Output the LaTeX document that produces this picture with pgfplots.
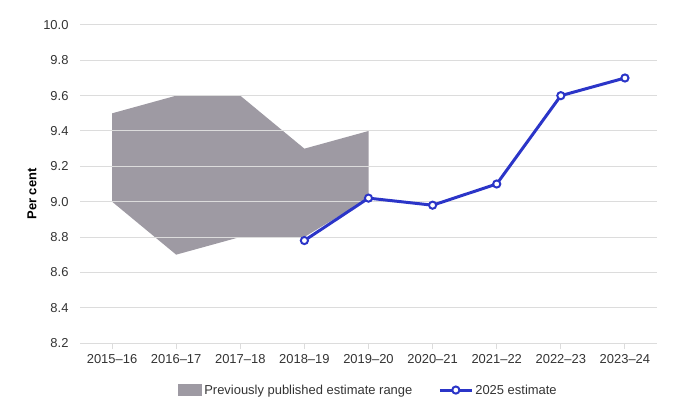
\documentclass[border=0pt]{standalone}
\usepackage{pgfplots}
\pgfplotsset{compat=1.18}
\usepackage{fontspec}
\setmainfont{Liberation Sans}
\definecolor{areagrey}{HTML}{9E9AA3}
\definecolor{lineblue}{HTML}{2B35C8}
\definecolor{gridgrey}{HTML}{DCDCDC}
\definecolor{textgrey}{HTML}{333333}
\begin{document}
\begin{tikzpicture}
\begin{axis}[
  set layers,
  at={(0,0)}, anchor=south west,
  scale only axis,
  width=577bp, height=318bp,
  xmin=-0.5, xmax=8.5,
  ymin=8.2, ymax=10.0,
  xtick={0,...,8},
  xticklabels={2015--16,2016--17,2017--18,2018--19,2019--20,2020--21,2021--22,2022--23,2023--24},
  ytick={8.2,8.4,...,10.01},
  yticklabel style={/pgf/number format/fixed, /pgf/number format/fixed zerofill, /pgf/number format/precision=1, xshift=-2bp},
  /pgf/number format/assume math mode=true,
  ymajorgrids,
  grid style={gridgrey, line width=1pt},
  axis x line*=bottom,
  axis y line*=left,
  x axis line style={draw=gridgrey, line width=1pt},
  y axis line style={draw=none},
  xtick style={draw=gridgrey, line width=1pt},
  ytick style={draw=none},
  tick align=outside,
  major tick length=6bp,
  tick label style={font=\fontsize{13}{15}\selectfont, text=textgrey},
  xticklabel style={yshift=-2bp},
  ylabel={\textbf{Per cent}},
  every axis y label/.style={at={(ticklabel cs:0.5)}, rotate=90, anchor=south, xshift=-10bp, font=\fontsize{13}{15}\selectfont, text=black},
  legend style={at={(0.5,-0.148)}, anchor=center, draw=none, fill=none,
    legend columns=2, font=\fontsize{13}{15}\selectfont, text=textgrey,
    /tikz/every even column/.append style={column sep=24bp}},
  legend cell align=left,
  legend image code/.code={%
    \draw[#1, mark repeat=2, mark phase=2] plot coordinates {(0bp,0bp) (16bp,0bp) (32bp,0bp)};},
  clip=false,
]
\addplot[on layer=axis background, fill=areagrey, draw=none,
  legend image code/.code={\fill[areagrey] (0bp,-6bp) rectangle (24bp,6bp);}] coordinates {
  (0,9.5) (1,9.6) (2,9.6) (3,9.3) (4,9.4)
  (4,9.02) (3,8.8) (2,8.8) (1,8.7) (0,9.0)
} -- cycle;
\addlegendentry{Previously published estimate range}
\addplot[lineblue, line width=3pt, mark=*, mark size=3.6pt,
  mark options={fill=white, draw=lineblue, line width=2pt}] coordinates {
  (3,8.78) (4,9.02) (5,8.98) (6,9.1) (7,9.6) (8,9.7)
};
\addlegendentry{2025 estimate}
\end{axis}
\pgfresetboundingbox
\path (-80bp,-75bp) rectangle (600bp,343bp);
\end{tikzpicture}
\end{document}
